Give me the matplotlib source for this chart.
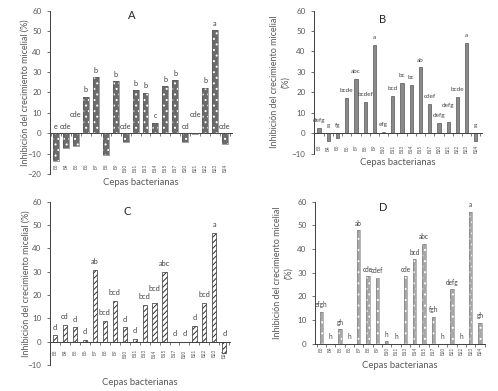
import numpy as np
import matplotlib
matplotlib.use('Agg')
import matplotlib.pyplot as plt

plt.rcParams['font.family'] = ['Lato', 'DejaVu Sans']
plt.rcParams['hatch.linewidth'] = 0.7

# cepas bakterij (enake v vseh stirih panelih)
cepas = ['B3', 'B4', 'B5', 'B6', 'B7', 'B8', 'B9', 'B10', 'B11', 'B13',
         'B14', 'B15', 'B17', 'B20', 'B21', 'B22', 'B23', 'B24']

valores_A = [-13.7, -7.2, -6.4, 18.0, 27.5, -10.8, 25.5, -4.2, 21.1, 19.8,
             5.2, 23.1, 26.1, -4.4, -0.3, 22.4, 50.5, -5.2]
letras_A = ['e', 'cde', 'cde', 'b', 'b', '', 'b', 'cde', 'b', 'b',
            'c', 'b', 'b', 'cd', 'cde', 'b', 'a', 'cde']

valores_B = [2.4, -3.6, -2.1, 17.3, 26.7, 15.5, 43.0, 0.6, 18.4, 24.4,
             23.8, 32.2, 14.5, 4.9, 5.5, 17.8, 44.1, -3.6]
letras_B = ['defg', 'g', 'fg', 'bcde', 'abc', 'bcdef', 'a', 'efg', 'bcd', 'bc',
            'bc', 'ab', 'cdef', 'defg', 'defg', 'bcde', 'a', 'g']

valores_C = [2.7, 7.1, 6.1, 0.6, 30.6, 8.9, 17.3, 6.1, 1.1, 15.6,
             16.6, 30.0, 0.0, 0.0, 6.6, 16.6, 46.6, -4.9]
letras_C = ['d', 'cd', 'd', 'd', 'ab', 'bcd', 'bcd', 'd', 'd', 'bcd',
            'bcd', 'abc', 'd', 'd', 'd', 'bcd', 'a', 'd']

valores_D = [13.5, 0.0, 6.1, 0.0, 47.9, 28.5, 27.9, 1.1, 0.0, 28.5,
             35.6, 42.3, 11.3, 0.0, 23.0, 0.0, 55.8, 8.9]
letras_D = ['efgh', 'h', 'gh', 'h', 'ab', 'cde', 'cdef', 'h', 'h', 'cde',
            'bcd', 'abc', 'fgh', 'h', 'defg', 'h', 'a', 'gh']

# crke, ki so v originalu malo visje (da se ne prekrivajo)
dvig_A = {'B5': 6, 'B21': 6}
dvig_B = {'B21': 4.5}
dvig_C = {'B14': 2.5}

siva = '#595959'
ylab1 = 'Inhibición del crecimiento micelial (%)'
ylab2 = 'Inhibición del crecimiento micelial\n(%)'

fig = plt.figure(figsize=(4.98, 3.91), dpi=100)


def panel(rect, valores, letras, naslov, ymin, xlim, sirina, slog, ylab,
          ylab_x, xlab_y, nasl_xy, pad, dvig={}, fs_crk=5.3, odmik=2.5):
    ax = fig.add_axes(rect)
    x = np.arange(len(cepas))
    if slog == 'A':
        ax.bar(x, valores, sirina, color='#6b6b6b', edgecolor='white',
               linewidth=0, hatch='...', zorder=2)
        ax.bar(x, valores, sirina, fill=False, edgecolor='#555555', linewidth=0.4, zorder=3)
    elif slog == 'B':
        ax.bar(x, valores, sirina, color='#8a8a8a', edgecolor='#555555',
               linewidth=0.5, zorder=2)
    elif slog == 'C':
        ax.bar(x, valores, sirina, color='white', edgecolor='#303030',
               linewidth=0.5, hatch='//////', zorder=2)
    else:
        ax.bar(x, valores, sirina, color='#a8a8a8', edgecolor='white',
               linewidth=0, hatch='...', zorder=2)
        ax.bar(x, valores, sirina, fill=False, edgecolor='#7a7a7a', linewidth=0.4, zorder=3)

    # crke nad stolpci
    for xi, v, t, c in zip(x, valores, letras, cepas):
        if not t:
            continue
        y = max(v, 0) + dvig.get(c, 0)
        ax.annotate(t, xy=(xi, y), xytext=(0, odmik), textcoords='offset points',
                    ha='center', va='bottom', fontsize=fs_crk, color='#404040')

    ax.set_ylim(ymin, 60)
    ax.set_xlim(*xlim)
    ax.set_yticks(np.arange(ymin, 61, 10))
    ax.tick_params(axis='y', labelsize=5.8, colors=siva, length=2.5, width=0.6)

    for s in ['top', 'right']:
        ax.spines[s].set_visible(False)
    ax.spines['left'].set_color('#404040')
    ax.spines['left'].set_linewidth(0.7)
    ax.spines['bottom'].set_position(('data', 0))
    ax.spines['bottom'].set_color('#404040')
    ax.spines['bottom'].set_linewidth(0.7)

    # crtice med kategorijami, imena cepov kot minor tick labeli
    ax.set_xticks(np.arange(-0.5, len(cepas)), [])
    ax.set_xticks(x, cepas, minor=True)
    ax.tick_params(axis='x', which='major', length=2.2, width=0.5, color='#404040')
    ax.tick_params(axis='x', which='minor', length=0, pad=pad, labelsize=3.3,
                   labelcolor=siva, labelrotation=90)

    ax.set_ylabel(ylab, fontsize=6.5, color=siva, linespacing=1.3)
    ax.yaxis.set_label_coords(ylab_x, 0.5)
    ax.yaxis.label.set_va('center')
    ax.set_xlabel('Cepas bacterianas', fontsize=6.8, color=siva)
    ax.xaxis.set_label_coords(0.5, xlab_y)
    ax.xaxis.label.set_va('center')
    ax.text(nasl_xy[0], nasl_xy[1], naslov, transform=ax.transAxes,
            ha='center', va='center', fontsize=8, color='#262626')
    return ax


panel([0.1004, 0.555, 0.3655, 0.417], valores_A, letras_A, 'A', -20, (-0.6, 17.7),
      0.6, 'A', ylab1, -0.135, -0.055, (0.45, 0.975), 22, dvig_A)
panel([0.6305, 0.607, 0.337, 0.366], valores_B, letras_B, 'B', -10, (-0.55, 17.65),
      0.35, 'B', ylab2, -0.20, -0.065, (0.41, 0.935), 8.4, dvig_B, fs_crk=4.6, odmik=3.5)
panel([0.1004, 0.0665, 0.3614, 0.4177], valores_C, letras_C, 'C', -10, (-0.5, 17.57),
      0.42, 'C', ylab1, -0.135, -0.11, (0.43, 0.94), 5.5, dvig_C, odmik=3.5)
panel([0.6325, 0.121, 0.341, 0.363], valores_D, letras_D, 'D', 0, (-0.67, 17.4),
      0.35, 'D', ylab2, -0.188, -0.155, (0.40, 0.958), 2, fs_crk=4.7)

plt.savefig('out.png', dpi=100)
